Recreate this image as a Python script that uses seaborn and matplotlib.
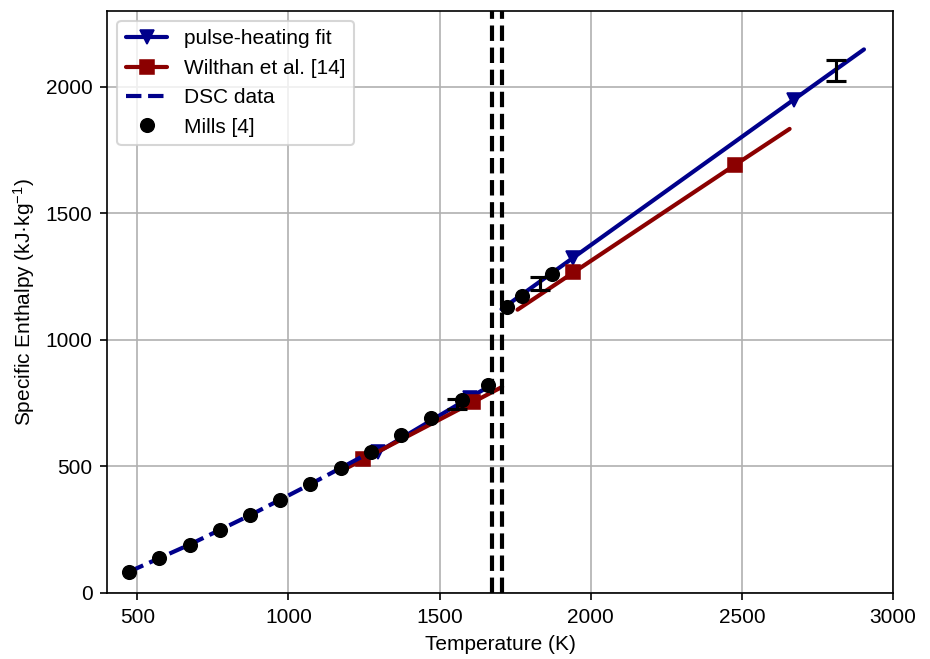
import matplotlib
matplotlib.use("Agg")
import matplotlib.pyplot as plt
import seaborn as sns

# Mills [4] reference points
mills_T = [473, 573, 673, 773, 873, 973, 1073, 1173, 1273, 1373, 1473, 1573, 1660, 1723, 1773, 1873]
mills_H = [84, 138, 191, 250, 307, 366, 430, 492, 557, 624, 692, 763, 823, 1130, 1173, 1258]

# DSC data
dsc_T = [473, 673, 873, 1073, 1273]
dsc_H = [84, 191, 307, 430, 557]

# pulse-heating fit, solid and liquid part (ends + two marked points each)
ph_sol_T = [1273, 1297, 1600, 1673]
ph_sol_H = [540, 557, 772, 822]
ph_liq_T = [1705, 1943, 2671, 2904]
ph_liq_H = [1121, 1325, 1948, 2147]

# Wilthan et al. [14]
wi_sol_T = [1173, 1248, 1611, 1707]
wi_sol_H = [481, 528, 754, 814]
wi_liq_T = [1758, 1943, 2479, 2658]
wi_liq_H = [1119, 1266, 1692, 1833]

# pulse-heating uncertainty bars
err_T = [1557, 1833, 2811]
err_H = [746, 1223, 2063]
err_dH = [20, 25, 41]

# solidus / liquidus
melt_T = [1675, 1705]

sns.set_style("whitegrid", {
    "axes.edgecolor": "black",
    "grid.color": "#b0b0b0",
    "xtick.bottom": True,
    "ytick.left": True,
    "xtick.color": "black",
    "ytick.color": "black",
    "text.color": "black",
    "axes.labelcolor": "black",
})
plt.rcParams["font.family"] = ["Liberation Sans", "DejaVu Sans"]
plt.rcParams["font.size"] = 10
plt.rcParams["mathtext.default"] = "regular"

fig = plt.figure(figsize=(6.2, 659 / 150), dpi=150)
ax = fig.add_axes([0.1151, 0.1002, 0.8451, 0.8836])

navy = "#00008b"
red = "#8b0000"

line_kw = dict(lw=2, markersize=7, markevery=[1, 2], ax=ax)
sns.lineplot(x=ph_sol_T, y=ph_sol_H, color=navy, marker="v", mec=navy, mfc=navy,
             label="pulse-heating fit", **line_kw)
sns.lineplot(x=ph_liq_T, y=ph_liq_H, color=navy, marker="v", mec=navy, mfc=navy, **line_kw)
sns.lineplot(x=wi_sol_T, y=wi_sol_H, color=red, marker="s", mec=red, mfc=red,
             label="Wilthan et al. [14]", **line_kw)
sns.lineplot(x=wi_liq_T, y=wi_liq_H, color=red, marker="s", mec=red, mfc=red, **line_kw)
sns.lineplot(x=dsc_T, y=dsc_H, color=navy, lw=2, linestyle="--", label="DSC data", ax=ax)

for t in melt_T:
    ax.axvline(t, color="black", lw=2, linestyle="--")

ax.errorbar(err_T, err_H, yerr=err_dH, fmt="none", ecolor="black",
            elinewidth=1.5, capsize=5, capthick=1.5)

sns.lineplot(x=mills_T, y=mills_H, color="black", linestyle="", marker="o",
             markersize=6.5, mec="black", mfc="black", label="Mills [4]", ax=ax, zorder=3)

ax.set_xlim(400, 3000)
ax.set_ylim(0, 2300)
ax.set_xticks(range(500, 3001, 500))
ax.set_yticks(range(0, 2001, 500))
ax.set_xlabel("Temperature (K)")
ax.set_ylabel("Specific Enthalpy (kJ·kg$^{-1}$)")
ax.grid(True, lw=0.8)
for s in ax.spines.values():
    s.set_linewidth(0.8)

ax.legend(loc="upper left", frameon=True, framealpha=0.8, edgecolor="0.8", fancybox=True)

fig.savefig("out.png", dpi=150)
